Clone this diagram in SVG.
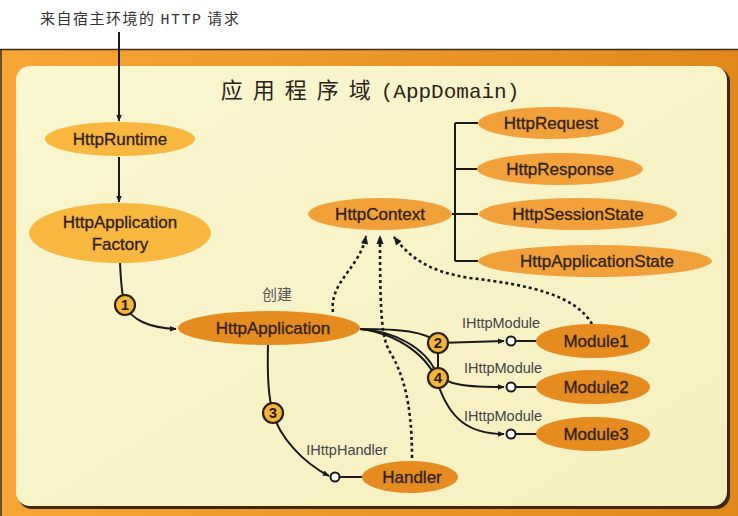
<svg xmlns="http://www.w3.org/2000/svg" width="738" height="516" viewBox="0 0 738 516">
<defs>
<linearGradient id="frameGrad" x1="0" y1="0" x2="1" y2="0">
<stop offset="0" stop-color="#f7a535"/>
<stop offset="1" stop-color="#e2881a"/>
</linearGradient>
<linearGradient id="innerGrad" x1="0" y1="0" x2="1" y2="1">
<stop offset="0" stop-color="#faf6cf"/>
<stop offset="1" stop-color="#f6efc0"/>
</linearGradient>
<marker id="arr" viewBox="0 0 10 10" refX="9" refY="5" markerWidth="7" markerHeight="7" orient="auto" markerUnits="userSpaceOnUse">
<path d="M0,1 L10,5 L0,9 Z" fill="#1a1a1a"/>
</marker>
<marker id="arrD" viewBox="0 0 10 10" refX="9" refY="5" markerWidth="9" markerHeight="9" orient="auto" markerUnits="userSpaceOnUse">
<path d="M0,1 L10,5 L0,9 Z" fill="#1a1a1a"/>
</marker>
</defs>
<style>
.light{fill:#f8b840;}
.mid{fill:#f2a13a;}
.dark{fill:#e68b20;}
.nt{font-family:"Liberation Sans",Arial,sans-serif;font-size:17px;fill:#2e2210;stroke:#2e2210;stroke-width:0.3;text-anchor:middle;}
.lbl{font-family:"Liberation Sans",Arial,sans-serif;font-size:14.5px;fill:#444;text-anchor:middle;}
.ln{fill:none;stroke:#1a1a1a;stroke-width:2;}
.dash{fill:none;stroke:#1a1a1a;stroke-width:2.6;stroke-dasharray:3 3;}
.lolli{fill:#fff;stroke:#1a1a1a;stroke-width:2;}
.badge circle{fill:#f5b53a;stroke:#2a2010;stroke-width:2.2;}
.badge text{font-family:"Liberation Sans",Arial,sans-serif;font-size:15px;font-weight:bold;fill:#2a2010;text-anchor:middle;}
</style>

<rect x="0" y="0" width="738" height="516" fill="#ffffff"/>
<g id="frame">
<rect x="0" y="49" width="738" height="467" fill="url(#frameGrad)"/>
<line x1="0" y1="49.5" x2="738" y2="49.5" stroke="#3a3020" stroke-width="1.5"/>
<line x1="1" y1="49" x2="1" y2="516" stroke="#3a3020" stroke-width="1.5"/>
<rect x="18" y="68" width="712" height="441" rx="14" fill="#3a2a14"/>
<rect x="16" y="66" width="711" height="440" rx="14" fill="url(#innerGrad)"/>
</g>

<text x="40" y="24" font-family="'Noto Sans CJK SC',sans-serif" font-size="15" letter-spacing="1.5" fill="#333">来自宿主环境的 <tspan font-family="'Liberation Mono',monospace">HTTP</tspan> 请求</text>
<text x="370" y="98" font-family="'Noto Sans CJK SC',sans-serif" font-size="22" fill="#2a2418" text-anchor="middle"><tspan letter-spacing="10">应用程序域</tspan><tspan font-family="'Liberation Mono',monospace" font-size="21">(AppDomain)</tspan></text>
<text x="277" y="300" font-family="'Noto Sans CJK SC',sans-serif" font-size="15" fill="#555" text-anchor="middle">创建</text>

<g id="connectors">
<path class="ln" d="M119,32 L119,121" marker-end="url(#arr)"/>
<path class="ln" d="M119,157 L119,202" marker-end="url(#arr)"/>
<path class="ln" d="M120,263 C121,285 122,296 125,305 C131,320 150,328 176,329" marker-end="url(#arr)"/>
<path class="ln" d="M268,345 C267,380 269,400 273,413 C279,436 302,462 329,476" marker-end="url(#arr)"/>
<path class="ln" d="M360,329 C400,329 425,331 438,343 L504,341" marker-end="url(#arr)"/>
<path class="ln" d="M360,329 C395,331 425,348 436,372 C445,386 470,387 504,387" marker-end="url(#arr)"/>
<path class="ln" d="M360,329 C400,334 430,358 438,384 C450,420 470,434 504,434" marker-end="url(#arr)"/>
<path class="ln" d="M438,343 L438,378"/>
<path class="ln" d="M452,214 L455,214 M455,123 L455,261 M455,123 L478,123 M455,169 L478,169 M455,214 L478,214 M455,261 L478,261"/>
<path class="ln" d="M516,341 L537,341 M516,387 L537,387 M516,434 L537,434 M340,477 L362,477"/>
<path class="dash" d="M333,312 C329,282 360,268 366,236" marker-end="url(#arrD)"/>
<path class="dash" d="M412,458 C412,400 402,372 390,352 C382,338 380,320 380,236" marker-end="url(#arrD)"/>
<path class="dash" d="M592,324 C575,295 530,285 470,278 C430,272 410,258 394,237" marker-end="url(#arrD)"/>
<circle class="lolli" cx="511" cy="341" r="4.5"/>
<circle class="lolli" cx="511" cy="387" r="4.5"/>
<circle class="lolli" cx="511" cy="434" r="4.5"/>
<circle class="lolli" cx="335" cy="477" r="4.5"/>
</g>

<g id="HttpRuntime"><ellipse class="light" cx="120" cy="139" rx="75" ry="17"/><text class="nt" x="120" y="145">HttpRuntime</text></g>
<g id="HttpApplicationFactory"><ellipse class="light" cx="120" cy="233" rx="91" ry="30"/><text class="nt" x="120" y="228">HttpApplication</text><text class="nt" x="120" y="250">Factory</text></g>
<g id="HttpContext"><ellipse class="mid" cx="380" cy="214" rx="72" ry="16"/><text class="nt" x="380" y="220">HttpContext</text></g>
<g id="HttpRequest"><ellipse class="mid" cx="551" cy="123" rx="73" ry="16"/><text class="nt" x="551" y="129">HttpRequest</text></g>
<g id="HttpResponse"><ellipse class="mid" cx="560" cy="169" rx="83" ry="16"/><text class="nt" x="560" y="175">HttpResponse</text></g>
<g id="HttpSessionState"><ellipse class="mid" cx="578" cy="214" rx="99" ry="16"/><text class="nt" x="578" y="220">HttpSessionState</text></g>
<g id="HttpApplicationState"><ellipse class="mid" cx="595" cy="261" rx="117" ry="16"/><text class="nt" x="597" y="267">HttpApplicationState</text></g>
<g id="HttpApplication"><ellipse class="dark" cx="269" cy="328" rx="91" ry="17"/><text class="nt" x="273" y="334">HttpApplication</text></g>
<g id="Handler"><ellipse class="dark" cx="410" cy="477" rx="48" ry="16"/><text class="nt" x="412" y="483">Handler</text></g>
<g id="Module1"><ellipse class="dark" cx="593" cy="341" rx="57" ry="17"/><text class="nt" x="596" y="347">Module1</text></g>
<g id="Module2"><ellipse class="dark" cx="593" cy="387" rx="57" ry="17"/><text class="nt" x="596" y="393">Module2</text></g>
<g id="Module3"><ellipse class="dark" cx="593" cy="434" rx="57" ry="17"/><text class="nt" x="596" y="440">Module3</text></g>

<text class="lbl" x="501" y="328">IHttpModule</text>
<text class="lbl" x="503" y="373">IHttpModule</text>
<text class="lbl" x="503" y="421">IHttpModule</text>
<text class="lbl" x="347" y="455">IHttpHandler</text>

<g class="badge" id="b1"><circle cx="125" cy="305" r="10"/><text x="125" y="310">1</text></g>
<g class="badge" id="b2"><circle cx="438" cy="343" r="10"/><text x="438" y="348">2</text></g>
<g class="badge" id="b3"><circle cx="273" cy="413" r="10"/><text x="273" y="418">3</text></g>
<g class="badge" id="b4"><circle cx="438" cy="378" r="10"/><text x="438" y="383">4</text></g>
</svg>
